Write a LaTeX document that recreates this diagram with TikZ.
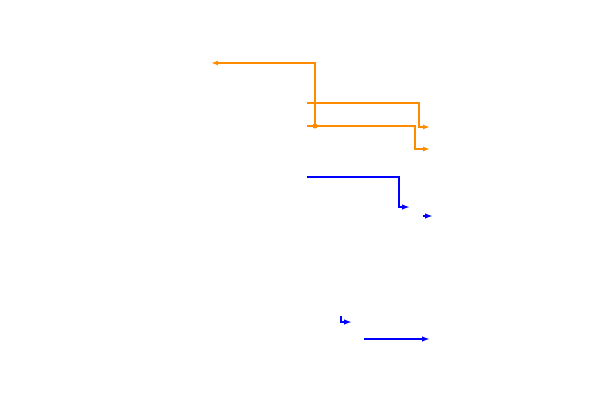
\documentclass[tikz,border=0pt]{standalone}
\usetikzlibrary{arrows.meta}
\definecolor{orng}{RGB}{255,140,0}
\definecolor{blu}{RGB}{0,0,255}
\begin{document}
\begin{tikzpicture}[x=1pt,y=-1pt,
  oline/.style={draw=orng,line width=1.4pt,-{Latex[length=7pt,width=5pt]}},
  bline/.style={draw=blu,line width=1.8pt,-{Latex[length=8pt,width=5.5pt]}},
  odot/.style={circle,fill=orng,draw=none,inner sep=0pt,minimum size=5pt}]
\useasboundingbox (0,0) rectangle (600,405);
% orange
\coordinate (d) at (315,126);
\coordinate (a1) at (211,63);
\draw[oline] (d) -- (315,63) -- (a1);
\coordinate (b0) at (307,126);
\coordinate (b1) at (430,149);
\draw[oline] (b0) -- (415,126) -- (415,149) -- (b1);
\coordinate (c0) at (307,103);
\coordinate (c1) at (430,127);
\draw[oline] (c0) -- (419,103) -- (419,127) -- (c1);
\node[odot] (dot) at (d) {};
% blue
\coordinate (e0) at (307,177);
\coordinate (e1) at (410,207);
\draw[bline] (e0) -- (399,177) -- (399,207) -- (e1);
\coordinate (f0) at (423,216);
\coordinate (f1) at (433,216);
\draw[bline] (f0) -- (f1);
\coordinate (g0) at (341,316);
\coordinate (g1) at (352,322);
\draw[bline] (g0) -- (341,322) -- (g1);
\coordinate (h0) at (364,339);
\coordinate (h1) at (430,339);
\draw[bline] (h0) -- (h1);
\end{tikzpicture}
\end{document}
